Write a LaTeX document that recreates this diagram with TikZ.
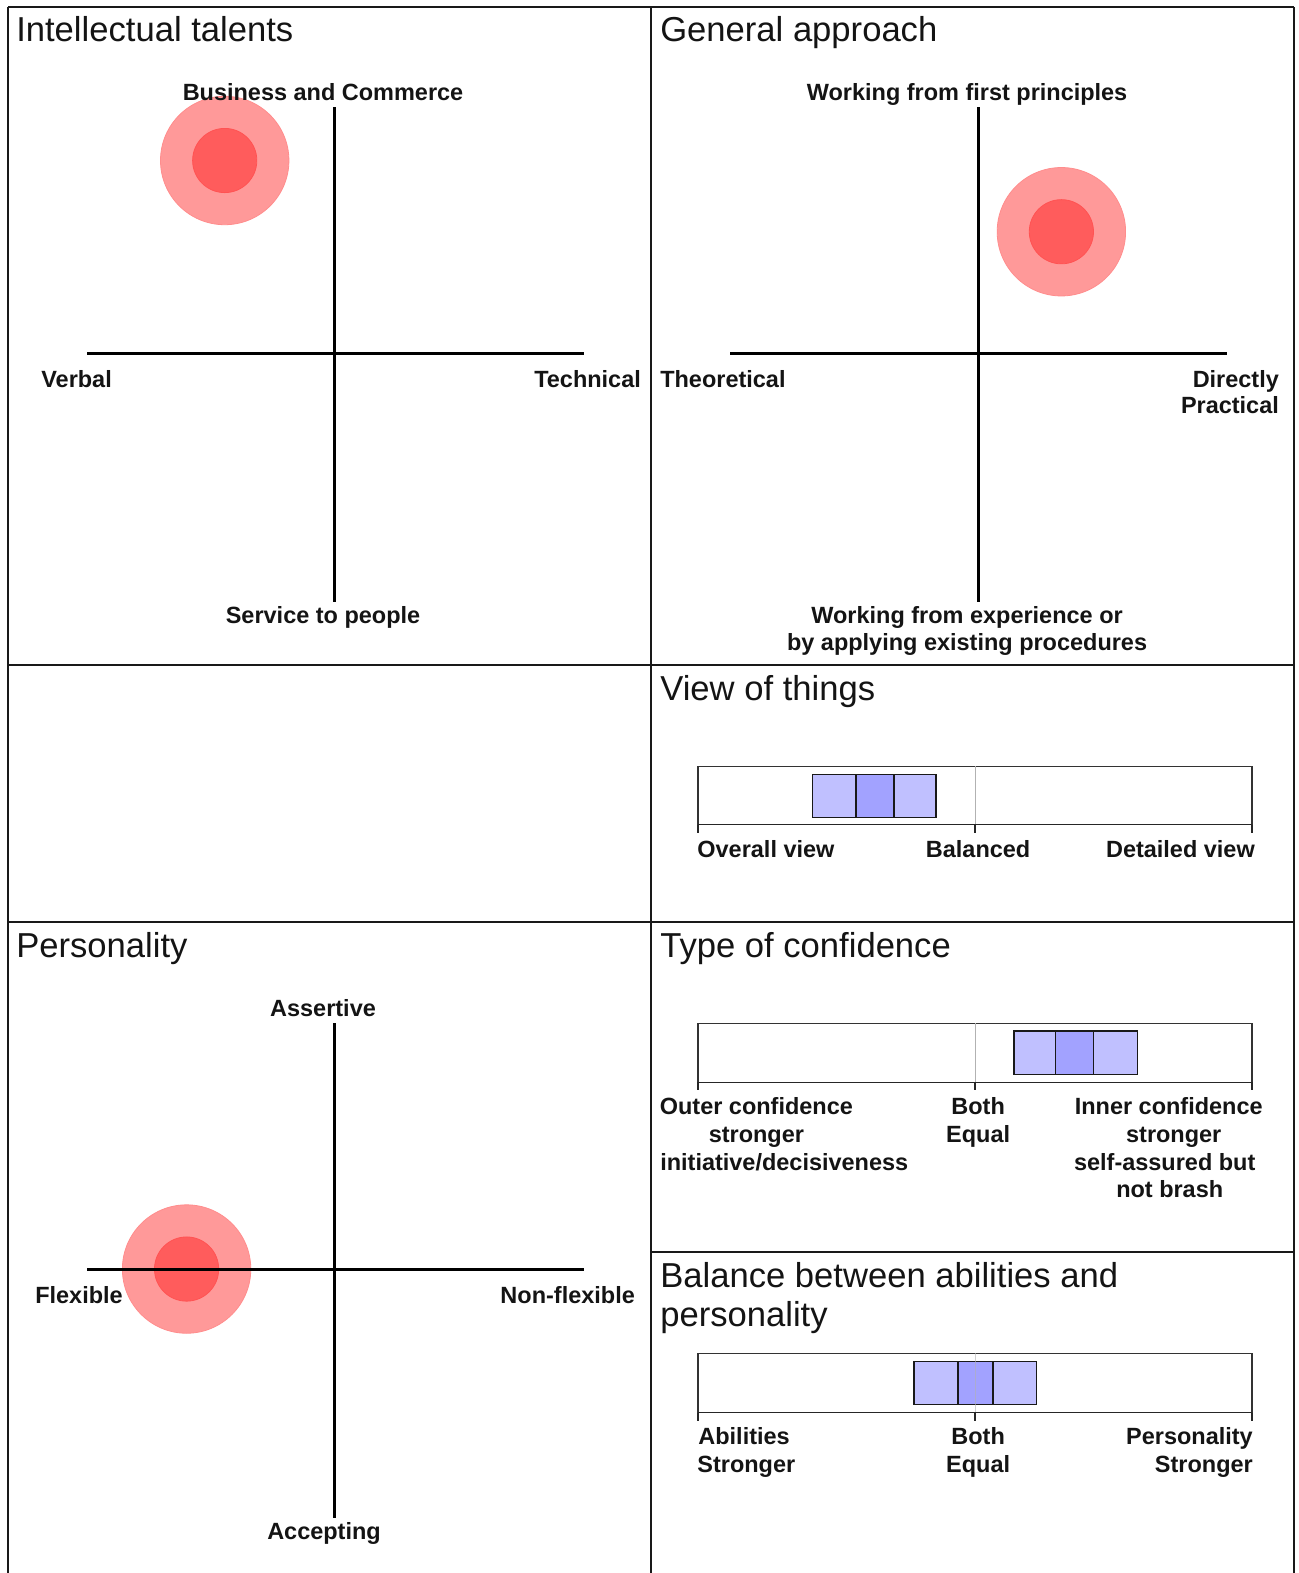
\documentclass[tikz,border=0pt]{standalone}
\usepackage{fontspec}
\setmainfont{Liberation Sans}
\definecolor{dotout}{RGB}{255,153,153}
\definecolor{dotin}{RGB}{255,92,92}
\definecolor{seglight}{RGB}{192,192,255}
\definecolor{segdark}{RGB}{162,162,255}
\definecolor{ink}{RGB}{20,20,20}
\tikzset{
  gridline/.style={line width=2pt, draw=black!90},
  axisline/.style={line width=3pt, draw=black},
  ttl/.style={font=\fontsize{34.5}{40}\selectfont, inner sep=0pt, text=ink},
  lbl/.style={font=\fontsize{23.4}{27.5}\selectfont\bfseries, inner sep=0pt, text=ink},
  outerdot/.style={circle, minimum size=128pt, inner sep=0pt, fill=dotout, draw=dotout!92!red, line width=0.8pt},
  innerdot/.style={circle, minimum size=64pt, inner sep=0pt, fill=dotin, draw=dotin!90!red, line width=0.8pt},
  barbox/.style={draw=black!80, line width=1.5pt},
  midline/.style={draw=black!30, line width=1pt},
  tickline/.style={draw=black!85, line width=1.5pt},
  seglt/.style={fill=seglight, draw=black!90, line width=1.6pt},
  segdk/.style={fill=segdark, draw=black!90, line width=1.6pt}
}
\begin{document}
\begin{tikzpicture}[x=1pt,y=-1pt]
\useasboundingbox (0,0) rectangle (1294,1568);
\fill[white] (0,0) rectangle (1294,1568);
% grid
\coordinate (gTL) at (8,7); \coordinate (gTM) at (649,7); \coordinate (gTR) at (1290,7);
\coordinate (gBL) at (8,1568); \coordinate (gBM) at (649,1568); \coordinate (gBR) at (1290,1568);
\coordinate (h1L) at (8,663); \coordinate (h1R) at (1290,663);
\coordinate (h2L) at (8,919); \coordinate (h2R) at (1290,919);
\coordinate (h3L) at (649,1248); \coordinate (h3R) at (1290,1248);
\draw[gridline] (gTL) -- (gTR);
\draw[gridline] (gTL) -- (gBL);
\draw[gridline] (gTM) -- (gBM);
\draw[gridline] (gTR) -- (gBR);
\draw[gridline] (h1L) -- (h1R);
\draw[gridline] (h2L) -- (h2R);
\draw[gridline] (h3L) -- (h3R);

% ---------- Panel 1: Intellectual talents
\node[ttl, anchor=base west] (t1) at (16,41) {Intellectual talents};
\node[outerdot] (c1o) at (224,160) {};
\node[innerdot] (c1i) at (224,160) {};
\coordinate (a1l) at (87,352); \coordinate (a1r) at (582,352);
\coordinate (a1t) at (333,107); \coordinate (a1b) at (333,600);
\draw[axisline] (a1l) -- (a1r);
\draw[axisline] (a1t) -- (a1b);
\node[lbl, anchor=base] (l1t) at (322,100) {Business and Commerce};
\node[lbl, anchor=base west] (l1l) at (41,386) {Verbal};
\node[lbl, anchor=base east] (l1r) at (639,386) {Technical};
\node[lbl, anchor=base] (l1b) at (322,622) {Service to people};

% ---------- Panel 2: General approach
\node[ttl, anchor=base west] (t2) at (658,41) {General approach};
\node[outerdot] (c2o) at (1058,231) {};
\node[innerdot] (c2i) at (1058,231) {};
\coordinate (a2l) at (728,352); \coordinate (a2r) at (1223,352);
\coordinate (a2t) at (975,107); \coordinate (a2b) at (975,600);
\draw[axisline] (a2l) -- (a2r);
\draw[axisline] (a2t) -- (a2b);
\node[lbl, anchor=base] (l2t) at (964,100) {Working from first principles};
\node[lbl, anchor=base west] (l2l) at (658,386) {Theoretical};
\node[lbl, anchor=base east] (l2r1) at (1275,386) {Directly};
\node[lbl, anchor=base east] (l2r2) at (1275,412) {Practical};
\node[lbl, anchor=base] (l2b1) at (964,622) {Working from experience or};
\node[lbl, anchor=base] (l2b2) at (964,648) {by applying existing procedures};

% ---------- Panel 3: View of things
\node[ttl, anchor=base west] (t3) at (658,698) {View of things};
\coordinate (b1tl) at (696,764); \coordinate (b1br) at (1248,822);
\coordinate (b1bl) at (696,822);
\draw[barbox] (b1tl) rectangle (b1br);
\coordinate (b1mt) at (972,764); \coordinate (b1mb) at (972,822);
\draw[midline] (b1mt) -- (b1mb);
\draw[tickline] (b1bl) -- (b1br);
\coordinate (b1k1) at (696,830); \coordinate (b1k2) at (972,830); \coordinate (b1k3) at (1248,830);
\draw[tickline] (b1bl) -- (b1k1);
\draw[tickline] (b1mb) -- (b1k2);
\draw[tickline] (b1br) -- (b1k3);
\draw[seglt] (810,772) rectangle (853,815);
\draw[seglt] (891,772) rectangle (933,815);
\draw[segdk] (853,772) rectangle (891,815);
\node[lbl, anchor=base west] (l3a) at (695,855) {Overall view};
\node[lbl, anchor=base] (l3b) at (975,855) {Balanced};
\node[lbl, anchor=base east] (l3c) at (1251,855) {Detailed view};

% ---------- Panel 4: Personality
\node[ttl, anchor=base west] (t4) at (16,954) {Personality};
\node[outerdot] (c4o) at (186,1265) {};
\node[innerdot] (c4i) at (186,1265) {};
\coordinate (a4l) at (87,1265); \coordinate (a4r) at (582,1265);
\coordinate (a4t) at (333,1020); \coordinate (a4b) at (333,1513);
\draw[axisline] (a4l) -- (a4r);
\draw[axisline] (a4t) -- (a4b);
\node[lbl, anchor=base] (l4t) at (322,1013) {Assertive};
\node[lbl, anchor=base west] (l4l) at (35,1299) {Flexible};
\node[lbl, anchor=base east] (l4r) at (633,1299) {Non-flexible};
\node[lbl, anchor=base] (l4b) at (323,1535) {Accepting};

% ---------- Panel 5: Type of confidence
\node[ttl, anchor=base west] (t5) at (658,954) {Type of confidence};
\coordinate (b2tl) at (696,1020); \coordinate (b2br) at (1248,1079);
\coordinate (b2bl) at (696,1079);
\draw[barbox] (b2tl) rectangle (b2br);
\coordinate (b2mt) at (972,1020); \coordinate (b2mb) at (972,1079);
\draw[midline] (b2mt) -- (b2mb);
\draw[tickline] (b2bl) -- (b2br);
\coordinate (b2k1) at (696,1087); \coordinate (b2k2) at (972,1087); \coordinate (b2k3) at (1248,1087);
\draw[tickline] (b2bl) -- (b2k1);
\draw[tickline] (b2mb) -- (b2k2);
\draw[tickline] (b2br) -- (b2k3);
\draw[seglt] (1011,1028) rectangle (1052,1071);
\draw[seglt] (1090,1028) rectangle (1134,1071);
\draw[segdk] (1052,1028) rectangle (1090,1071);
\node[lbl, anchor=base] (l5a1) at (754,1111) {Outer confidence};
\node[lbl, anchor=base] (l5a2) at (754,1139) {stronger};
\node[lbl, anchor=base west] (l5a3) at (658,1167) {initiative/decisiveness};
\node[lbl, anchor=base] (l5b1) at (975,1111) {Both};
\node[lbl, anchor=base] (l5b2) at (975,1139) {Equal};
\node[lbl, anchor=base] (l5c1) at (1165,1111) {Inner confidence};
\node[lbl, anchor=base] (l5c2) at (1170,1139) {stronger};
\node[lbl, anchor=base] (l5c3) at (1161,1167) {self-assured but};
\node[lbl, anchor=base] (l5c4) at (1166,1194) {not brash};

% ---------- Panel 6: Balance between abilities and personality
\node[ttl, anchor=base west] (t6a) at (658,1283) {Balance between abilities and};
\node[ttl, anchor=base west] (t6b) at (658,1322) {personality};
\coordinate (b3tl) at (696,1349); \coordinate (b3br) at (1248,1408);
\coordinate (b3bl) at (696,1408);
\draw[barbox] (b3tl) rectangle (b3br);
\draw[seglt] (911,1357) rectangle (955,1400);
\draw[seglt] (990,1357) rectangle (1033,1400);
\draw[segdk] (955,1357) rectangle (990,1400);
\coordinate (b3mt) at (972,1349); \coordinate (b3mb) at (972,1408);
\draw[midline, draw opacity=0.6] (b3mt) -- (b3mb);
\draw[tickline] (b3bl) -- (b3br);
\coordinate (b3k1) at (696,1416); \coordinate (b3k2) at (972,1416); \coordinate (b3k3) at (1248,1416);
\draw[tickline] (b3bl) -- (b3k1);
\draw[tickline] (b3mb) -- (b3k2);
\draw[tickline] (b3br) -- (b3k3);
\node[lbl, anchor=base west] (l6a1) at (696,1440) {Abilities};
\node[lbl, anchor=base west] (l6a2) at (695,1468) {Stronger};
\node[lbl, anchor=base] (l6b1) at (975,1440) {Both};
\node[lbl, anchor=base] (l6b2) at (975,1468) {Equal};
\node[lbl, anchor=base east] (l6c1) at (1249,1440) {Personality};
\node[lbl, anchor=base east] (l6c2) at (1249,1468) {Stronger};
\end{tikzpicture}
\end{document}
